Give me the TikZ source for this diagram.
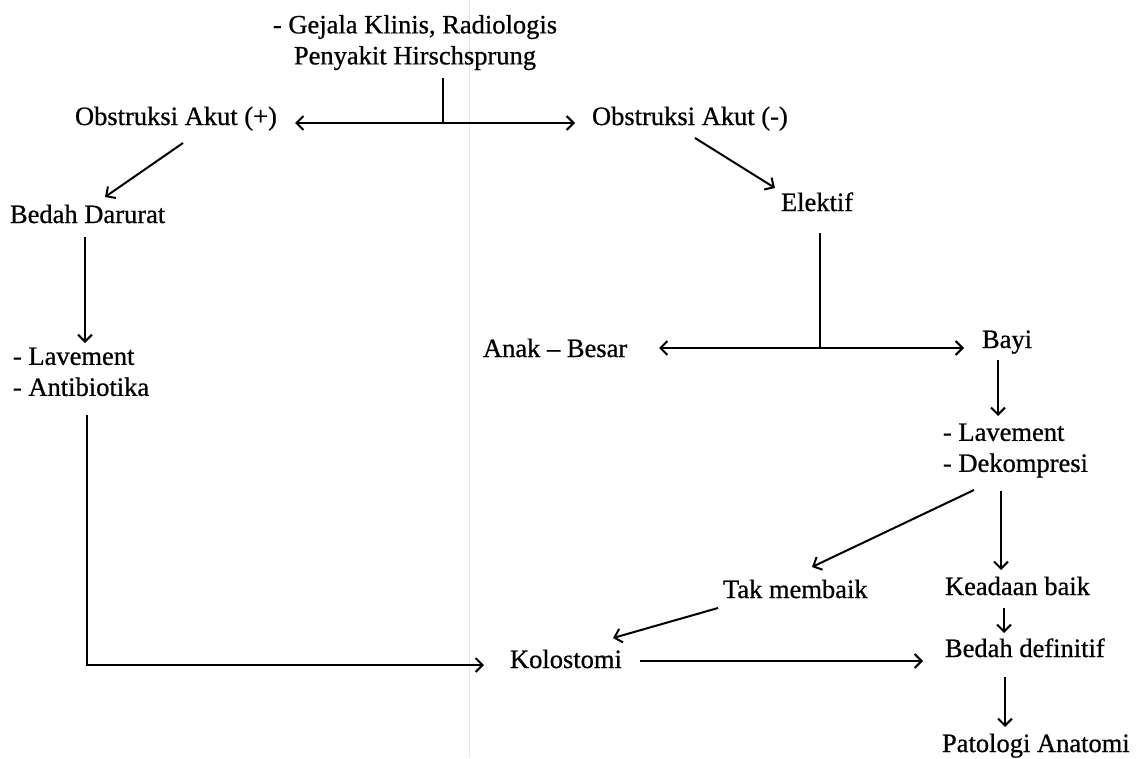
\documentclass[tikz,border=0pt]{standalone}
\usepackage{fontspec}
\setmainfont{Liberation Serif}[FakeBold=0.7]
\usetikzlibrary{arrows.meta,calc}
\begin{document}
\begin{tikzpicture}[x=1pt,y=-1pt,
  lbl/.style={inner sep=0pt,outer sep=0pt,font=\fontsize{26.5}{31}\selectfont},
  ln/.style={line width=2pt},
  arr/.style={ln,-{Straight Barb[length=7pt,width=14pt]}}]
\useasboundingbox (0,0) rectangle (1145,758);
\fill[white] (0,0) rectangle (1145,758);
\draw[black!10,line width=0.8pt] (469,0) -- (469,758);
% nodes
\node[lbl,anchor=north,align=center] (top) at (415,15) {- Gejala Klinis, Radiologis\\Penyakit Hirschsprung};
\node[lbl,anchor=base west] (obsP) at (75,125) {Obstruksi Akut (+)};
\node[lbl,anchor=base west] (obsM) at (592,125) {Obstruksi Akut (-)};
\node[lbl,anchor=base west] (bedahD) at (10,223) {Bedah Darurat};
\node[lbl,anchor=base west] (elektif) at (781,211) {Elektif};
\node[lbl,anchor=north west,align=left] (lavA) at (13,347.5) {- Lavement\\- Antibiotika};
\node[lbl,anchor=base west] (anak) at (483,357) {Anak – Besar};
\node[lbl,anchor=base west] (bayi) at (982,348) {Bayi};
\node[lbl,anchor=north west,align=left] (lavB) at (943,423.5) {- Lavement\\- Dekompresi};
\node[lbl,anchor=base west] (tak) at (723,598) {Tak membaik};
\node[lbl,anchor=base west] (baik) at (945,595) {Keadaan baik};
\node[lbl,anchor=base west] (kolo) at (510,668) {Kolostomi};
\node[lbl,anchor=base west] (bdef) at (945,657) {Bedah definitif};
\node[lbl,anchor=base west] (pato) at (942,752) {Patologi Anatomi};
% junctions
\coordinate (j1) at ($(top.north)+(28,108)$);
\coordinate (j2) at ($(elektif.base west)+(39,137)$);
% connectors
\draw[ln] ($(top.north)+(28,63)$) -- (j1);
\draw[arr] (j1) -- ($(obsP.base west)+(220,-2)$);
\draw[arr] (j1) -- ($(obsM.base west)+(-17,-2)$);
\draw[arr] ($(obsP.base west)+(108,18)$) -- ($(bedahD.base west)+(95,-26)$);
\draw[arr] ($(bedahD.base west)+(75,14)$) -- ($(lavA.north west)+(72,-4.5)$);
\draw[arr] ($(lavA.north west)+(74,67.5)$) |- ($(kolo.base west)+(-26,-3)$);
\draw[arr] ($(obsM.base west)+(103,13)$) -- ($(elektif.base west)+(-6,-23)$);
\draw[ln] ($(elektif.base west)+(39,22)$) -- (j2);
\draw[arr] (j2) -- ($(anak.base west)+(176,-9)$);
\draw[arr] (j2) -- ($(bayi.base west)+(-18,0)$);
\draw[arr] ($(bayi.base west)+(16,12)$) -- ($(lavB.north west)+(55,-7.5)$);
\draw[arr] ($(lavB.north west)+(31,66.5)$) -- ($(tak.base west)+(89,-31)$);
\draw[arr] ($(lavB.north west)+(58,67.5)$) -- ($(baik.base west)+(56,-25)$);
\draw[arr] ($(baik.base west)+(59,13)$) -- ($(bdef.base west)+(59,-24)$);
\draw[arr] ($(bdef.base west)+(60,20)$) -- ($(pato.base west)+(63,-25)$);
\draw[arr] ($(tak.base west)+(-5,10)$) -- ($(kolo.base west)+(103,-30)$);
\draw[arr] ($(kolo.base west)+(130,-7)$) -- ($(bdef.base west)+(-22,4)$);
\end{tikzpicture}
\end{document}
